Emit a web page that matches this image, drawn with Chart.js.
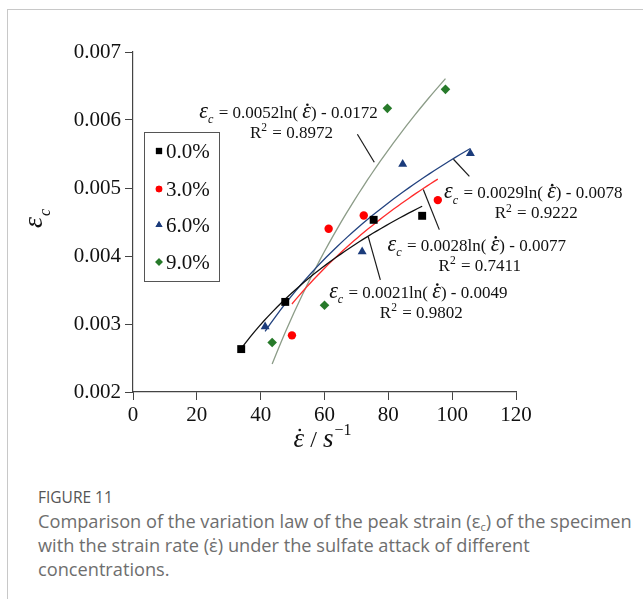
<!DOCTYPE html>
<html>
<head>
<meta charset="utf-8">
<script src="https://cdn.jsdelivr.net/npm/chart.js@4.4.1/dist/chart.umd.min.js"></script>
<style>
  body { margin: 0; background: #fff; }
  #wrap { position: relative; width: 643px; height: 599px; overflow: hidden; }
  #frame { position: absolute; left: 7px; top: 9px; width: 700px; height: 700px;
           border-left: 1px solid #c8c8c8; border-top: 1px solid #c8c8c8; }
  #myChart { position: absolute; left: 0; top: 0; }
  #caption { position: absolute; left: 38px; top: 486px; font-family: 'Open Sans', sans-serif; }
  #caption .fig { font-size: 15.5px; color: #555; line-height: 22px; }
  #caption .text { font-size: 18.2px; color: #6e6e6e; line-height: 24px; white-space: nowrap; margin-top: 1px; }
  #caption sub { font-size: 11px; line-height: 0; vertical-align: -3px; }
</style>
</head>
<body>
<div id="wrap">
  <div id="frame"></div>
  <canvas id="myChart" width="643" height="470"></canvas>
  <div id="caption">
    <div class="fig">FIGURE 11</div>
    <div class="text">Comparison of the variation law of the peak strain (ε<sub>c</sub>) of the specimen<br>with the strain rate (ε̇) under the sulfate attack of different<br>concentrations.</div>
  </div>
</div>
<script>
// Nồng độ sulfate và số liệu đo (tốc độ biến dạng, biến dạng đỉnh)
const concentrations = ['0.0%', '3.0%', '6.0%', '9.0%'];
const strainRate0 = [33.9, 47.7, 75.4, 90.6];
const peakStrain0 = [0.002631, 0.003325, 0.004532, 0.004591];
const strainRate3 = [49.8, 61.3, 72.3, 95.5];
const peakStrain3 = [0.002833, 0.004400, 0.004595, 0.004822];
const strainRate6 = [41.4, 71.8, 84.5, 105.7];
const peakStrain6 = [0.002961, 0.004063, 0.005349, 0.005507];
const strainRate9 = [43.6, 60.0, 79.7, 97.9];
const peakStrain9 = [0.002729, 0.003276, 0.006171, 0.006451];
const rSquared = ['0.9802', '0.7411', '0.9222', '0.8972'];

// Nhãn trục
const xTicks = [0, 20, 40, 60, 80, 100, 120];
const yTicks = [0.002, 0.003, 0.004, 0.005, 0.006, 0.007];

const rates = [strainRate0, strainRate3, strainRate6, strainRate9];
const strains = [peakStrain0, peakStrain3, peakStrain6, peakStrain9];

// Kiểu hiển thị cho từng nồng độ
const markerColors = ['#000000', '#ff0000', '#1b3b7b', '#277a2a'];
const lineColors = ['#111111', '#ff2b2b', '#22427f', '#8c9c88'];
const pointStyles = ['rect', 'circle', 'triangle', 'rectRot'];
const pointSizes = [5.6, 4.2, 5.2, 4.8];

const SERIF = '"Liberation Serif", "DejaVu Serif", serif';

// Hồi quy logarit: y = b*ln(x) + a
function logFit(xs, ys) {
    const lx = xs.map(Math.log);
    const n = xs.length;
    const mx = lx.reduce((s, v) => s + v, 0) / n;
    const my = ys.reduce((s, v) => s + v, 0) / n;
    let sxy = 0, sxx = 0;
    for (let i = 0; i < n; i++) {
        sxy += (lx[i] - mx) * (ys[i] - my);
        sxx += (lx[i] - mx) * (lx[i] - mx);
    }
    const b = sxy / sxx;
    return { b: b, a: my - b * mx };
}

const fits = rates.map((xs, i) => logFit(xs, strains[i]));

// Đường xu hướng: lấy mẫu trong khoảng số liệu của mỗi chuỗi
function trendPoints(xs, fit) {
    const lo = Math.min(...xs), hi = Math.max(...xs);
    const pts = [];
    for (let k = 0; k <= 40; k++) {
        const x = lo + (hi - lo) * k / 40;
        pts.push({ x: x, y: fit.b * Math.log(x) + fit.a });
    }
    return pts;
}

const pointSets = concentrations.map((label, i) => ({
    label: label,
    data: rates[i].map((x, j) => ({ x: x, y: strains[i][j] })),
    pointStyle: pointStyles[i],
    pointRadius: pointSizes[i],
    pointBackgroundColor: markerColors[i],
    pointBorderColor: markerColors[i],
    pointBorderWidth: 0,
    showLine: false
}));

const lineSets = concentrations.map((label, i) => ({
    label: label + ' fit',
    type: 'line',
    data: trendPoints(rates[i], fits[i]),
    borderColor: lineColors[i],
    borderWidth: 1.3,
    pointRadius: 0,
    tension: 0,
    fill: false
}));

// Vị trí chú thích phương trình (toạ độ dữ liệu) và đường chỉ dẫn
const eqPlacement = [
    { x: 89.4, y: 0.003473, lead: [73.7, 0.004285, 77.5, 0.003650] },
    { x: 107.7, y: 0.004167, lead: [90.95, 0.004979, 95.97, 0.004388] },
    { x: 125.4, y: 0.004935, lead: [100.4, 0.005423, 105.4, 0.005172] },
    { x: 48.7, y: 0.006117, lead: [70.3, 0.005791, 75.6, 0.005378] }
];

// Vẽ chuỗi chữ gồm nhiều đoạn (chỉ số dưới/trên, chữ nghiêng), căn giữa tại cx
function drawRich(c, parts, cx, cy) {
    let total = 0;
    parts.forEach(p => { c.font = p.font; p.w = c.measureText(p.t).width; total += p.w + (p.gap || 0); });
    let x = cx - total / 2;
    c.textAlign = 'left';
    c.textBaseline = 'alphabetic';
    parts.forEach(p => {
        c.font = p.font;
        c.fillText(p.t, x, cy + (p.dy || 0));
        if (p.dot) {
            c.beginPath();
            c.arc(x + p.w * 0.58, cy + p.dot, 1.3, 0, Math.PI * 2);
            c.fill();
        }
        x += p.w + (p.gap || 0);
    });
}

function eqParts(fit, size) {
    const sign = fit.a < 0 ? ' - ' : ' + ';
    return [
        { t: 'ε', font: `italic ${size * 1.3}px ${SERIF}` },
        { t: 'c', font: `italic ${size * 0.72}px ${SERIF}`, dy: size * 0.32, gap: 1 },
        { t: ' = ' + fit.b.toFixed(4) + 'ln( ', font: `${size}px ${SERIF}` },
        { t: 'ε', font: `italic ${size * 1.3}px ${SERIF}`, dot: -size * 0.78 },
        { t: ')' + sign + Math.abs(fit.a).toFixed(4), font: `${size}px ${SERIF}` }
    ];
}

function r2Parts(r2, size) {
    return [
        { t: 'R', font: `${size}px ${SERIF}` },
        { t: '2', font: `${size * 0.68}px ${SERIF}`, dy: -size * 0.4, gap: 1 },
        { t: ' = ' + r2, font: `${size}px ${SERIF}` }
    ];
}

const annotations = {
    id: 'annotations',
    afterDatasetsDraw(chart) {
        const c = chart.ctx;
        const xs = chart.scales.x, ys = chart.scales.y;
        const area = chart.chartArea;
        c.save();

        // Chú giải
        c.strokeStyle = '#555';
        c.lineWidth = 1;
        c.strokeRect(144.5, 132.5, 75, 149);
        const rowY = [151, 189, 225, 262];
        concentrations.forEach((label, i) => {
            c.fillStyle = markerColors[i];
            c.strokeStyle = markerColors[i];
            Chart.helpers.drawPoint(c, { pointStyle: pointStyles[i], radius: pointSizes[i] * 0.78, rotation: 0, borderWidth: 0 }, 159, rowY[i]);
            c.fill();
            c.fillStyle = '#111';
            c.font = `21px ${SERIF}`;
            c.textAlign = 'left';
            c.textBaseline = 'middle';
            c.fillText(label, 166, rowY[i] + 1);
        });

        // Phương trình hồi quy + đường chỉ dẫn
        c.fillStyle = '#111';
        c.strokeStyle = '#1a1a1a';
        c.lineWidth = 1.2;
        eqPlacement.forEach((p, i) => {
            const px = xs.getPixelForValue(p.x), py = ys.getPixelForValue(p.y);
            drawRich(c, eqParts(fits[i], 17), px, py + 6);
            drawRich(c, r2Parts(rSquared[i], 17), px + 3, py + 26);
            const l = p.lead;
            c.beginPath();
            c.moveTo(xs.getPixelForValue(l[0]), ys.getPixelForValue(l[1]));
            c.lineTo(xs.getPixelForValue(l[2]), ys.getPixelForValue(l[3]));
            c.stroke();
        });

        // Tên trục x: ε̇ / s^-1
        drawRich(c, [
            { t: 'ε', font: `italic 27px ${SERIF}`, dot: -17 },
            { t: ' / ', font: `24px ${SERIF}` },
            { t: 's', font: `italic 27px ${SERIF}`, gap: 1 },
            { t: '−1', font: `16px ${SERIF}`, dy: -12 }
        ], (area.left + area.right) / 2 - 2, 447);

        // Tên trục y: ε_c (xoay 90°)
        c.translate(42, 228);
        c.rotate(-Math.PI / 2);
        c.textAlign = 'left';
        c.textBaseline = 'alphabetic';
        c.font = `italic 28px ${SERIF}`;
        c.fillText('ε', 0, 0);
        const w = c.measureText('ε').width;
        c.font = `italic 16px ${SERIF}`;
        c.fillText('c', w + 1, 8);
        c.restore();
    }
};

const ctx = document.getElementById('myChart').getContext('2d');
const myChart = new Chart(ctx, {
    type: 'scatter',
    data: { datasets: pointSets.concat(lineSets) },
    options: {
        responsive: false,
        animation: false,
        layout: { padding: { left: 0, right: 127, top: 52, bottom: 18 } },
        plugins: { legend: { display: false }, tooltip: { enabled: false } },
        scales: {
            x: {
                type: 'linear',
                min: xTicks[0],
                max: xTicks[xTicks.length - 1],
                afterBuildTicks: s => { s.ticks = xTicks.map(v => ({ value: v })); },
                ticks: { color: '#111', padding: 3, font: { family: SERIF, size: 21 } },
                grid: { drawOnChartArea: false, tickLength: 8, color: '#444' },
                border: { color: '#444', width: 1.2 },
                afterFit: s => { s.height = 60; }
            },
            y: {
                min: yTicks[0],
                max: yTicks[yTicks.length - 1],
                afterBuildTicks: s => { s.ticks = yTicks.map(v => ({ value: v })); },
                ticks: { color: '#111', padding: 4, font: { family: SERIF, size: 21 }, callback: v => v.toFixed(3) },
                grid: { drawOnChartArea: false, tickLength: 8, color: '#444' },
                border: { color: '#444', width: 1.2 },
                afterFit: s => { s.width = 133; }
            }
        }
    },
    plugins: [annotations]
});
</script>
</body>
</html>
